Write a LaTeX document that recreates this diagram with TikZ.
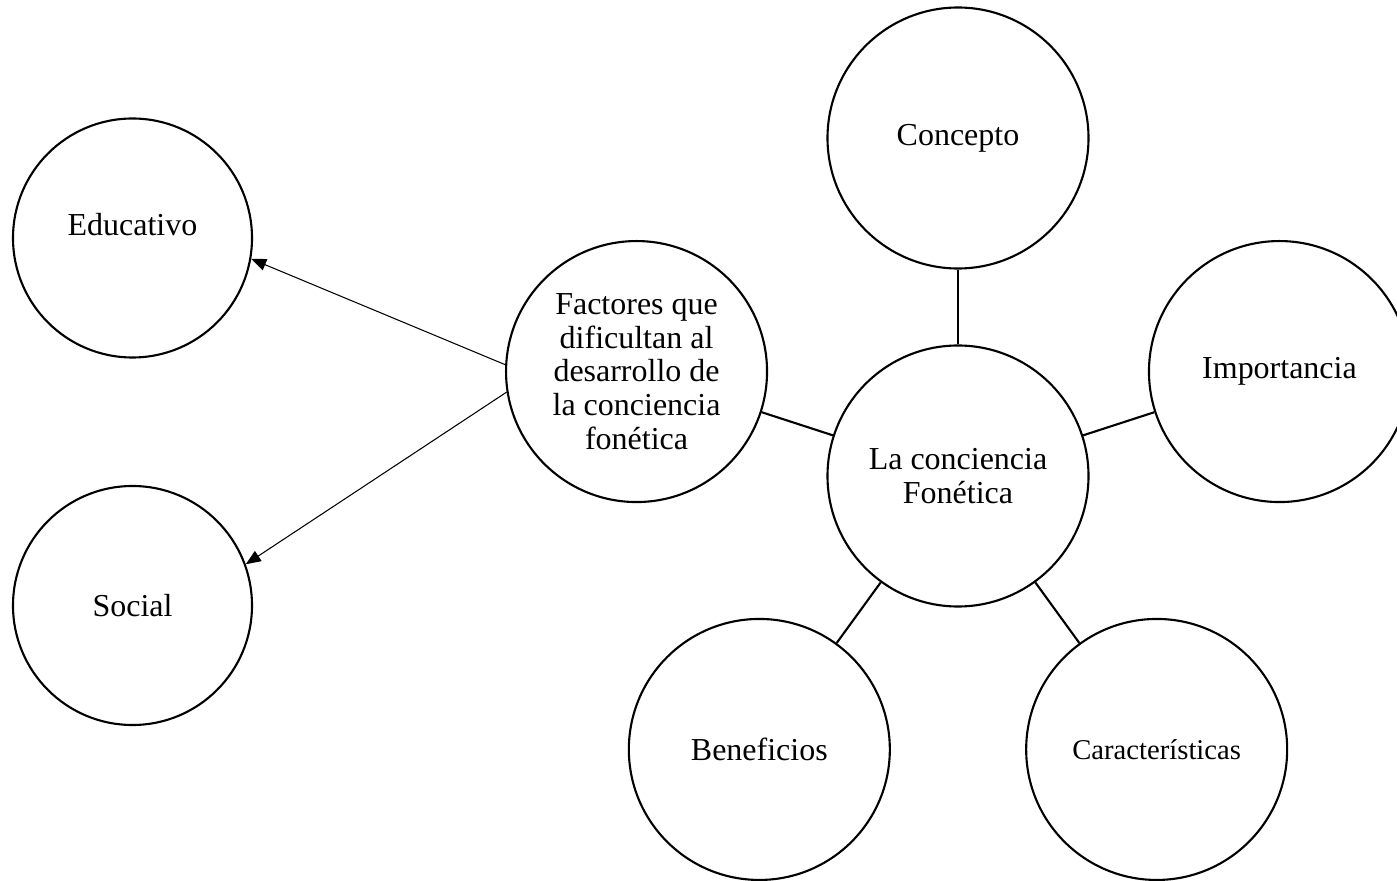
\documentclass[tikz,border=0pt]{standalone}
\usepackage{fontspec}
\setmainfont{Liberation Serif}
\usetikzlibrary{arrows.meta}

\begin{document}
\begin{tikzpicture}[
  bubble/.style={circle, draw=black, line width=1.2pt, inner sep=0,
    minimum size=5.22cm, align=center,
    font=\fontsize{18.2pt}{19.2pt}\selectfont},
  side/.style={bubble, minimum size=4.78cm},
  link/.style={draw=black, line width=1.2pt},
  arr/.style={-{Triangle[length=0.3cm, width=0.24cm]}, line width=0.6pt}]
  \useasboundingbox (0,0) rectangle (27.94,-17.62);

  \node[bubble] (fonetica) at (19.16,-9.52) {La conciencia\\Fonética};
  \node[bubble] (factores) at ([shift={(162:6.76)}]fonetica.center) {Factores que\\dificultan al\\desarrollo de\\la conciencia\\fonética};
  \draw[link] (factores) -- (fonetica);

  % the four circles round the centre
  \foreach \ang/\name/\txt in {90/concepto/Concepto, 18/importancia/Importancia,
      234/beneficios/Beneficios, 306/caracteristicas/{\fontsize{16.3pt}{17pt}\selectfont Características}} {
    \node[bubble] (\name) at ([shift={(\ang:6.76)}]fonetica.center) {\txt};
    \draw[link] (fonetica) -- (\name);
  }

  \node[side] (educativo) at (2.65,-4.76) {\raisebox{0.56cm}{Educativo}};
  \node[side] (social) at (2.65,-12.11) {Social};
  \draw[arr] (factores.177) -- (educativo.-10);
  \draw[arr] (factores.189) -- (social.20);
\end{tikzpicture}
\end{document}
